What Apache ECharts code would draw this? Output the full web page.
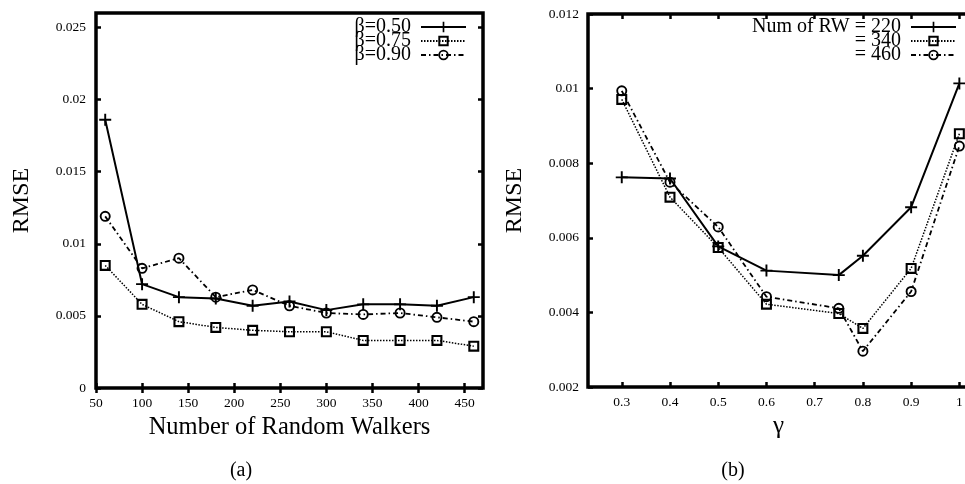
<!DOCTYPE html>
<html>
<head>
<meta charset="utf-8">
<script src="https://cdn.jsdelivr.net/npm/echarts@6/dist/echarts.min.js"></script>
<style>
html,body{margin:0;padding:0;background:#fff;}
#chart{width:965px;height:484px;}
</style>
</head>
<body>
<div id="chart"></div>
<script>
// ---- Panel (a) data ----
const walkers = [60, 100, 140, 180, 220, 260, 300, 340, 380, 420, 460];
const beta050 = [0.0186, 0.0072, 0.0063, 0.0062, 0.0057, 0.0060, 0.0054, 0.0058, 0.0058, 0.0057, 0.0063];
const beta075 = [0.0085, 0.0058, 0.0046, 0.0042, 0.0040, 0.0039, 0.0039, 0.0033, 0.0033, 0.0033, 0.0029];
const beta090 = [0.0119, 0.0083, 0.0090, 0.0063, 0.0068, 0.0057, 0.0052, 0.0051, 0.0052, 0.0049, 0.0046];
const namesA = ['β=0.50', 'β=0.75', 'β=0.90'];
const xTicksA = [50, 100, 150, 200, 250, 300, 350, 400, 450];
const yTicksA = [0, 0.005, 0.01, 0.015, 0.02, 0.025];

// ---- Panel (b) data ----
const gammas = [0.3, 0.4, 0.5, 0.6, 0.75, 0.8, 0.9, 1];
const rw220 = [0.00762, 0.00759, 0.00577, 0.00512, 0.00500, 0.00552, 0.00682, 0.01014];
const rw340 = [0.00971, 0.00709, 0.00574, 0.00422, 0.00397, 0.00357, 0.00518, 0.00879];
const rw460 = [0.00994, 0.00749, 0.00629, 0.00442, 0.00411, 0.00296, 0.00456, 0.00846];
const namesB = ['Num of RW = 220', '= 340', '= 460'];
const xTicksB = [0.3, 0.4, 0.5, 0.6, 0.7, 0.8, 0.9, 1];
const yTicksB = [0.002, 0.004, 0.006, 0.008, 0.01, 0.012];

const FONT = 'Liberation Serif';
const SYM_PLUS = 'path://M-0.8,-5 h1.6 v4.2 h4.2 v1.6 h-4.2 v4.2 h-1.6 v-4.2 h-4.2 v-1.6 h4.2 z';
const SYM_SQUARE = 'path://M-5,-5 H5 V5 H-5 Z M-3.1,-3.1 V3.1 H3.1 V-3.1 Z';
const SYM_CIRCLE = 'path://M0,-5 A5,5 0 1,1 0,5 A5,5 0 1,1 0,-5 Z M0,-3.3 A3.3,3.3 0 1,0 0,3.3 A3.3,3.3 0 1,0 0,-3.3 Z';

const styles = [
  {symbol: SYM_PLUS, symbolSize: 12, lineStyle: {color: '#000', width: 2, type: 'solid'}},
  {symbol: SYM_SQUARE, symbolSize: 11, lineStyle: {color: '#000', width: 1.5, type: [1.5, 1.5]}},
  {symbol: SYM_CIRCLE, symbolSize: 11, lineStyle: {color: '#000', width: 1.8, type: [5, 3, 1.5, 3]}}
];

function zip(xs, ys) { return xs.map((x, i) => [x, ys[i]]); }

function makeSeries(name, xs, ys, idx, axisIdx) {
  const s = styles[idx];
  return {
    name: name, type: 'line',
    xAxisIndex: axisIdx, yAxisIndex: axisIdx,
    data: zip(xs, ys),
    symbol: s.symbol, symbolSize: s.symbolSize,
    showAllSymbol: true,
    itemStyle: {color: '#000'},
    lineStyle: s.lineStyle,
    emphasis: {disabled: true}
  };
}

const tickStyle = {show: true, inside: true, length: 5, lineStyle: {color: '#000', width: 2.5}};
const labelStyle = {color: '#000', fontFamily: FONT, fontSize: 13.5};

function xAxisPair(grid, min, max, ticks, name, nameSize, nameGap) {
  return [
    {type: 'value', gridIndex: grid, min: min, max: max, position: 'bottom',
     axisLine: {show: false}, splitLine: {show: false},
     axisTick: Object.assign({customValues: ticks}, tickStyle),
     axisLabel: Object.assign({customValues: ticks, margin: 8}, labelStyle),
     name: name, nameLocation: 'middle', nameGap: nameGap,
     nameTextStyle: {color: '#000', fontFamily: FONT, fontSize: nameSize}},
    {type: 'value', gridIndex: grid, min: min, max: max, position: 'top',
     axisLine: {show: false}, splitLine: {show: false},
     axisTick: Object.assign({customValues: ticks}, tickStyle),
     axisLabel: {show: false}}
  ];
}
function yAxisPair(grid, min, max, ticks, labelMargin, nameGap, mirrorTicks) {
  return [
    {type: 'value', gridIndex: grid, min: min, max: max, position: 'left',
     axisLine: {show: false}, splitLine: {show: false},
     axisTick: Object.assign({customValues: ticks}, tickStyle),
     axisLabel: Object.assign({customValues: ticks, margin: labelMargin}, labelStyle),
     name: 'RMSE', nameLocation: 'middle', nameGap: nameGap,
     nameTextStyle: {color: '#000', fontFamily: FONT, fontSize: 24}},
    {type: 'value', gridIndex: grid, min: min, max: max, position: 'right',
     axisLine: {show: false}, splitLine: {show: false},
     axisTick: mirrorTicks ? Object.assign({customValues: ticks}, tickStyle) : {show: false},
     axisLabel: {show: false}}
  ];
}

const xA = xAxisPair(0, 50, 470, xTicksA, 'Number of Random Walkers', 24.5, 20);
const xB = xAxisPair(1, 0.23, 1.02, xTicksB, 'γ', 25, 22);
const yA = yAxisPair(0, 0, 0.026, yTicksA, 10, 62, true);
const yB = yAxisPair(1, 0.002, 0.012, yTicksB, 9, 61, false);

const legendCommon = {
  orient: 'vertical', align: 'right', padding: 0, itemGap: -6,
  itemWidth: 45, itemHeight: 13, selectedMode: false,
  textStyle: {color: '#000', fontFamily: FONT, fontSize: 20, padding: [0, 5, 0, 0]}
};

const gridCommon = {show: true, borderColor: '#000', borderWidth: 3.5, backgroundColor: 'transparent', containLabel: false, outerBoundsMode: 'none'};

const option = {
  animation: false,
  backgroundColor: '#fff',
  grid: [
    Object.assign({left: 96, top: 13, width: 387, height: 375}, gridCommon),
    Object.assign({left: 588, top: 14, width: 381, height: 373}, gridCommon)
  ],
  // axes: 0 bottom A, 1 top A, 2 bottom B, 3 top B
  xAxis: [xA[0], xA[1], xB[0], xB[1]],
  yAxis: [yA[0], yA[1], yB[0], yB[1]],
  legend: [
    Object.assign({data: namesA, right: 498, top: 17}, legendCommon),
    Object.assign({data: namesB, right: 8, top: 17}, legendCommon)
  ],
  series: [
    makeSeries(namesA[0], walkers, beta050, 0, 0),
    makeSeries(namesA[1], walkers, beta075, 1, 0),
    makeSeries(namesA[2], walkers, beta090, 2, 0),
    makeSeries(namesB[0], gammas, rw220, 0, 2),
    makeSeries(namesB[1], gammas, rw340, 1, 2),
    makeSeries(namesB[2], gammas, rw460, 2, 2)
  ],
  graphic: [
    {type: 'text', x: 241, y: 471, style: {text: '(a)', fill: '#000', font: '20px "Liberation Serif"', align: 'center', verticalAlign: 'middle'}},
    {type: 'text', x: 733, y: 471, style: {text: '(b)', fill: '#000', font: '20px "Liberation Serif"', align: 'center', verticalAlign: 'middle'}}
  ]
};

const chart = echarts.init(document.getElementById('chart'), null, {renderer: 'canvas'});
chart.setOption(option);
</script>
</body>
</html>
